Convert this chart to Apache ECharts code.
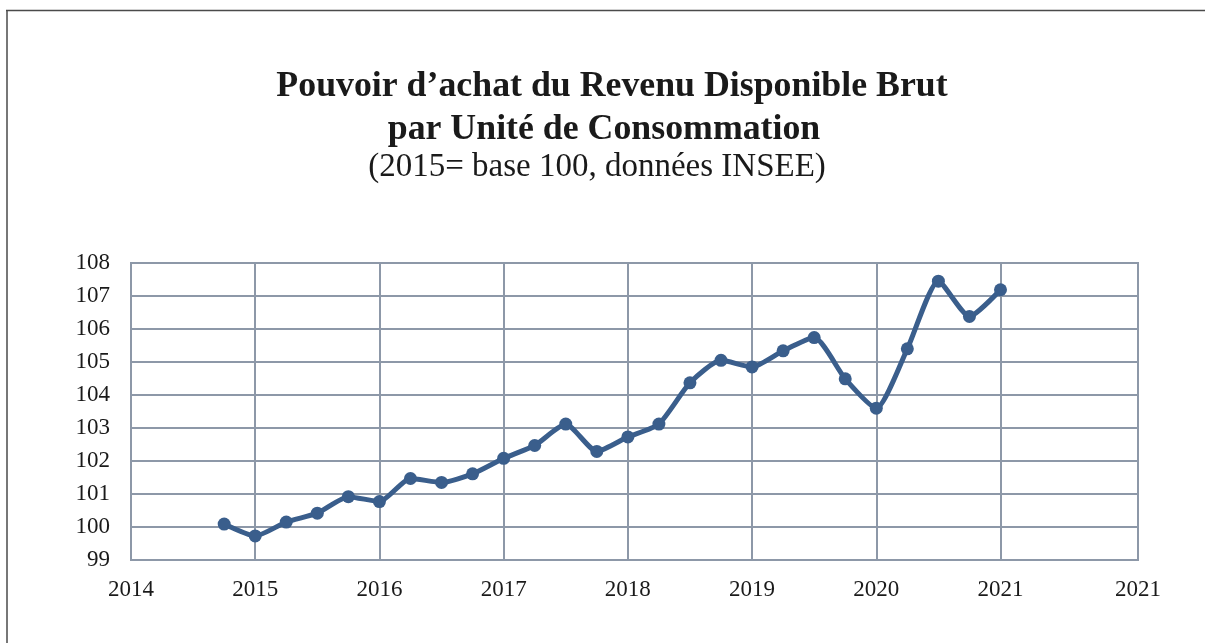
<!DOCTYPE html>
<html>
<head>
<meta charset="utf-8">
<script src="https://cdn.jsdelivr.net/npm/echarts@6/dist/echarts.min.js"></script>
<style>
html,body{margin:0;padding:0;background:#fff;}
#chart{width:1205px;height:643px;}
</style>
</head>
<body>
<div id="chart"></div>
<script>
// Data: quarterly values (x in fractional years)
var quarters = [2014.75, 2015, 2015.25, 2015.5, 2015.75, 2016, 2016.25, 2016.5, 2016.75, 2017, 2017.25, 2017.5, 2017.75, 2018, 2018.25, 2018.5, 2018.75, 2019, 2019.25, 2019.5, 2019.75, 2020, 2020.25, 2020.5, 2020.75, 2021];
var values = [100.09, 99.73, 100.15, 100.42, 100.92, 100.77, 101.47, 101.35, 101.61, 102.08, 102.47, 103.12, 102.29, 102.73, 103.12, 104.37, 105.05, 104.85, 105.34, 105.74, 104.49, 103.60, 105.40, 107.45, 106.38, 107.19];
var xTickValues = [2014, 2015, 2016, 2017, 2018, 2019, 2020, 2021, 2022.107];
var xTickLabels = ['2014', '2015', '2016', '2017', '2018', '2019', '2020', '2021', '2021'];
var yTicks = [99, 100, 101, 102, 103, 104, 105, 106, 107, 108];
var titleLines = ['Pouvoir d\u2019achat du Revenu Disponible Brut', 'par Unit\u00e9 de Consommation'];
var subtitleText = '(2015= base 100, donn\u00e9es INSEE)';

var chart = echarts.init(document.getElementById('chart'), null, {renderer: 'canvas'});
var seriesData = quarters.map(function (q, i) { return [q, values[i]]; });
var gridColor = '#8d98a8';
var serif = '"Liberation Serif", "DejaVu Serif", serif';
var textColor = '#1a1a1a';

chart.setOption({
  backgroundColor: '#ffffff',
  animation: false,
  graphic: [
    {type: 'line', shape: {x1: 6, y1: 10.5, x2: 1205, y2: 10.5}, style: {stroke: '#4a4a4a', lineWidth: 1.5}},
    {type: 'line', shape: {x1: 7, y1: 10, x2: 7, y2: 643}, style: {stroke: '#4a4a4a', lineWidth: 1.5}},
    {type: 'text', x: 612, y: 87, style: {text: titleLines[0], align: 'center', verticalAlign: 'middle', fill: textColor, font: 'bold 35.8px ' + serif}},
    {type: 'text', x: 604, y: 130, style: {text: titleLines[1], align: 'center', verticalAlign: 'middle', fill: textColor, font: 'bold 35.8px ' + serif}},
    {type: 'text', x: 597, y: 167, style: {text: subtitleText, align: 'center', verticalAlign: 'middle', fill: textColor, font: 'normal 33px ' + serif}}
  ],
  grid: {left: 131, right: 67, top: 263, bottom: 83, show: true, borderColor: gridColor, borderWidth: 2, backgroundColor: 'transparent'},
  xAxis: {
    type: 'value',
    min: 2014,
    max: xTickValues[xTickValues.length - 1],
    axisLine: {show: false},
    axisTick: {show: false, customValues: xTickValues},
    splitLine: {show: true, lineStyle: {color: gridColor, width: 2}},
    axisLabel: {
      customValues: xTickValues,
      margin: 18,
      fontFamily: serif,
      fontSize: 23,
      color: textColor,
      formatter: function (v) {
        var idx = xTickValues.indexOf(v);
        return idx >= 0 ? xTickLabels[idx] : '';
      }
    }
  },
  yAxis: {
    type: 'value',
    min: yTicks[0],
    max: yTicks[yTicks.length - 1],
    interval: 1,
    axisLine: {show: false},
    axisTick: {show: false},
    splitLine: {show: true, lineStyle: {color: gridColor, width: 2}},
    axisLabel: {margin: 21, fontFamily: serif, fontSize: 23, color: textColor}
  },
  series: [{
    type: 'line',
    data: seriesData,
    smooth: 0.2,
    symbol: 'circle',
    symbolSize: 13,
    lineStyle: {color: '#3a5e8c', width: 5},
    itemStyle: {color: '#3a5e8c'}
  }]
});
</script>
</body>
</html>
